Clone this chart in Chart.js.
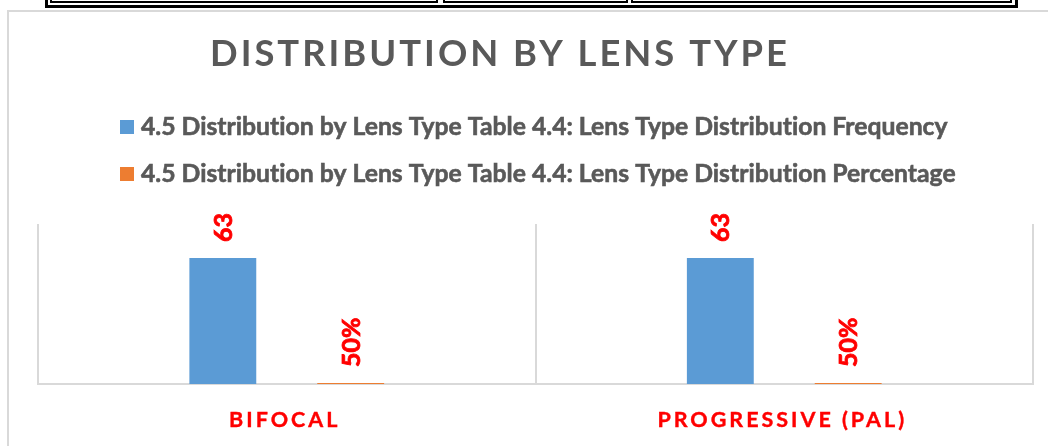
<!DOCTYPE html>
<html><head><meta charset="utf-8">
<script src="https://cdn.jsdelivr.net/npm/chart.js@4.4.1/dist/chart.umd.min.js"></script>
<style>
html,body{margin:0;padding:0;background:#fff;width:1048px;height:446px;overflow:hidden;}
#frame{position:absolute;left:7px;top:10px;width:1100px;height:500px;border-left:2px solid #d9d9d9;border-top:2px solid #d9d9d9;box-sizing:border-box;}
.tbl{position:absolute;border:2px solid #000;box-sizing:border-box;}
#c{position:absolute;left:0;top:0;}
</style></head><body>
<div id="frame"></div>
<div class="tbl" style="left:45px;top:-20px;width:973px;height:28px;border-width:3px;"></div>
<div class="tbl" style="left:50px;top:-20px;width:388px;height:23px;"></div>
<div class="tbl" style="left:443px;top:-20px;width:185px;height:23px;"></div>
<div class="tbl" style="left:631px;top:-20px;width:381px;height:23px;"></div>
<canvas id="c" width="1048" height="446"></canvas>
<script>
const titleText = 'DISTRIBUTION BY LENS TYPE';
const categories = ['BIFOCAL', 'PROGRESSIVE (PAL)'];
const seriesNames = [
  '4.5 Distribution by Lens Type Table 4.4: Lens Type Distribution Frequency',
  '4.5 Distribution by Lens Type Table 4.4: Lens Type Distribution Percentage'
];
const frequency = [63, 63];
const percentage = [0.5, 0.5];
const yMin = 0, yMax = 80;

const FONT = 'Lato, "Open Sans", sans-serif';
const GRAY = '#595959';
const RED = '#FF0000';

function widthAt100(ctx, text) {
  ctx.letterSpacing = '0.01px';
  ctx.font = 'bold 100px ' + FONT;
  return ctx.measureText(text).width / 100;
}
function sizeForWidth(ctx, text, target, ls) {
  return (target - ls * (text.length - 1)) / widthAt100(ctx, text);
}

const labelsPlugin = {
  id: 'customText',
  afterDraw(chart) {
    const ctx = chart.ctx;
    ctx.save();
    // Title
    const tls = 3;
    const ts = sizeForWidth(ctx, titleText, 577, tls);
    ctx.font = 'bold ' + ts.toFixed(2) + 'px ' + FONT;
    ctx.letterSpacing = tls + 'px';
    ctx.fillStyle = GRAY;
    ctx.textAlign = 'left';
    ctx.textBaseline = 'alphabetic';
    ctx.fillText(titleText, 210, 66);

    // Legend
    const ls = sizeForWidth(ctx, seriesNames[0], 806, 0);
    ctx.letterSpacing = '0.01px';
    ctx.font = 'bold ' + ls.toFixed(2) + 'px ' + FONT;
    const rowsY = [135, 182];
    chart.data.datasets.forEach((ds, i) => {
      ctx.fillStyle = ds.backgroundColor;
      ctx.fillRect(120, rowsY[i] - 15, 14, 14);
      ctx.fillStyle = GRAY;
      ctx.lineWidth = 0.6;
      ctx.strokeStyle = GRAY;
      ctx.fillText(ds.label, 141, rowsY[i]);
      ctx.strokeText(ds.label, 141, rowsY[i]);
    });

    // Category labels
    const xs = chart.scales.x;
    ctx.font = 'bold 21.5px ' + FONT;
    ctx.letterSpacing = '3px';
    ctx.fillStyle = RED;
    ctx.strokeStyle = RED;
    ctx.lineWidth = 0.4;
    ctx.textAlign = 'center';
    chart.data.labels.forEach((lab, i) => {
      ctx.fillText(lab, xs.getPixelForValue(i) - 2, 427);
      ctx.strokeText(lab, xs.getPixelForValue(i) - 2, 427);
    });

    // Data labels (rotated)
    ctx.letterSpacing = '0.01px';
    ctx.font = 'bold 25px ' + FONT;
    ctx.fillStyle = RED;
    ctx.strokeStyle = RED;
    ctx.lineWidth = 0.8;
    ctx.textAlign = 'left';
    ctx.textBaseline = 'middle';
    chart.data.datasets.forEach((ds, d) => {
      const meta = chart.getDatasetMeta(d);
      meta.data.forEach((el, i) => {
        const v = ds.data[i];
        const txt = d === 0 ? String(v) : Math.round(v * 100) + '%';
        ctx.save();
        ctx.translate(el.x, el.y - 16);
        ctx.rotate(-Math.PI / 2);
        ctx.fillText(txt, 0, 1);
        ctx.strokeText(txt, 0, 1);
        ctx.restore();
      });
    });
    ctx.restore();
  }
};

new Chart(document.getElementById('c'), {
  type: 'bar',
  data: {
    labels: categories,
    datasets: [
      { label: seriesNames[0], data: frequency, backgroundColor: '#5B9BD5' },
      { label: seriesNames[1], data: percentage, backgroundColor: '#ED7D31' }
    ]
  },
  options: {
    responsive: false,
    animation: false,
    devicePixelRatio: 1,
    categoryPercentage: 0.514,
    barPercentage: 0.523,
    layout: { padding: { left: 38, top: 224, right: 15, bottom: 62 } },
    plugins: { legend: { display: false }, title: { display: false }, tooltip: { enabled: false } },
    scales: {
      x: {
        grid: { display: true, offset: true, color: '#d9d9d9', lineWidth: 2, drawTicks: false },
        border: { display: true, color: '#d9d9d9', width: 2 },
        ticks: { display: false }
      },
      y: {
        display: false,
        min: yMin, max: yMax
      }
    }
  },
  plugins: [labelsPlugin]
});
</script>
</body></html>
